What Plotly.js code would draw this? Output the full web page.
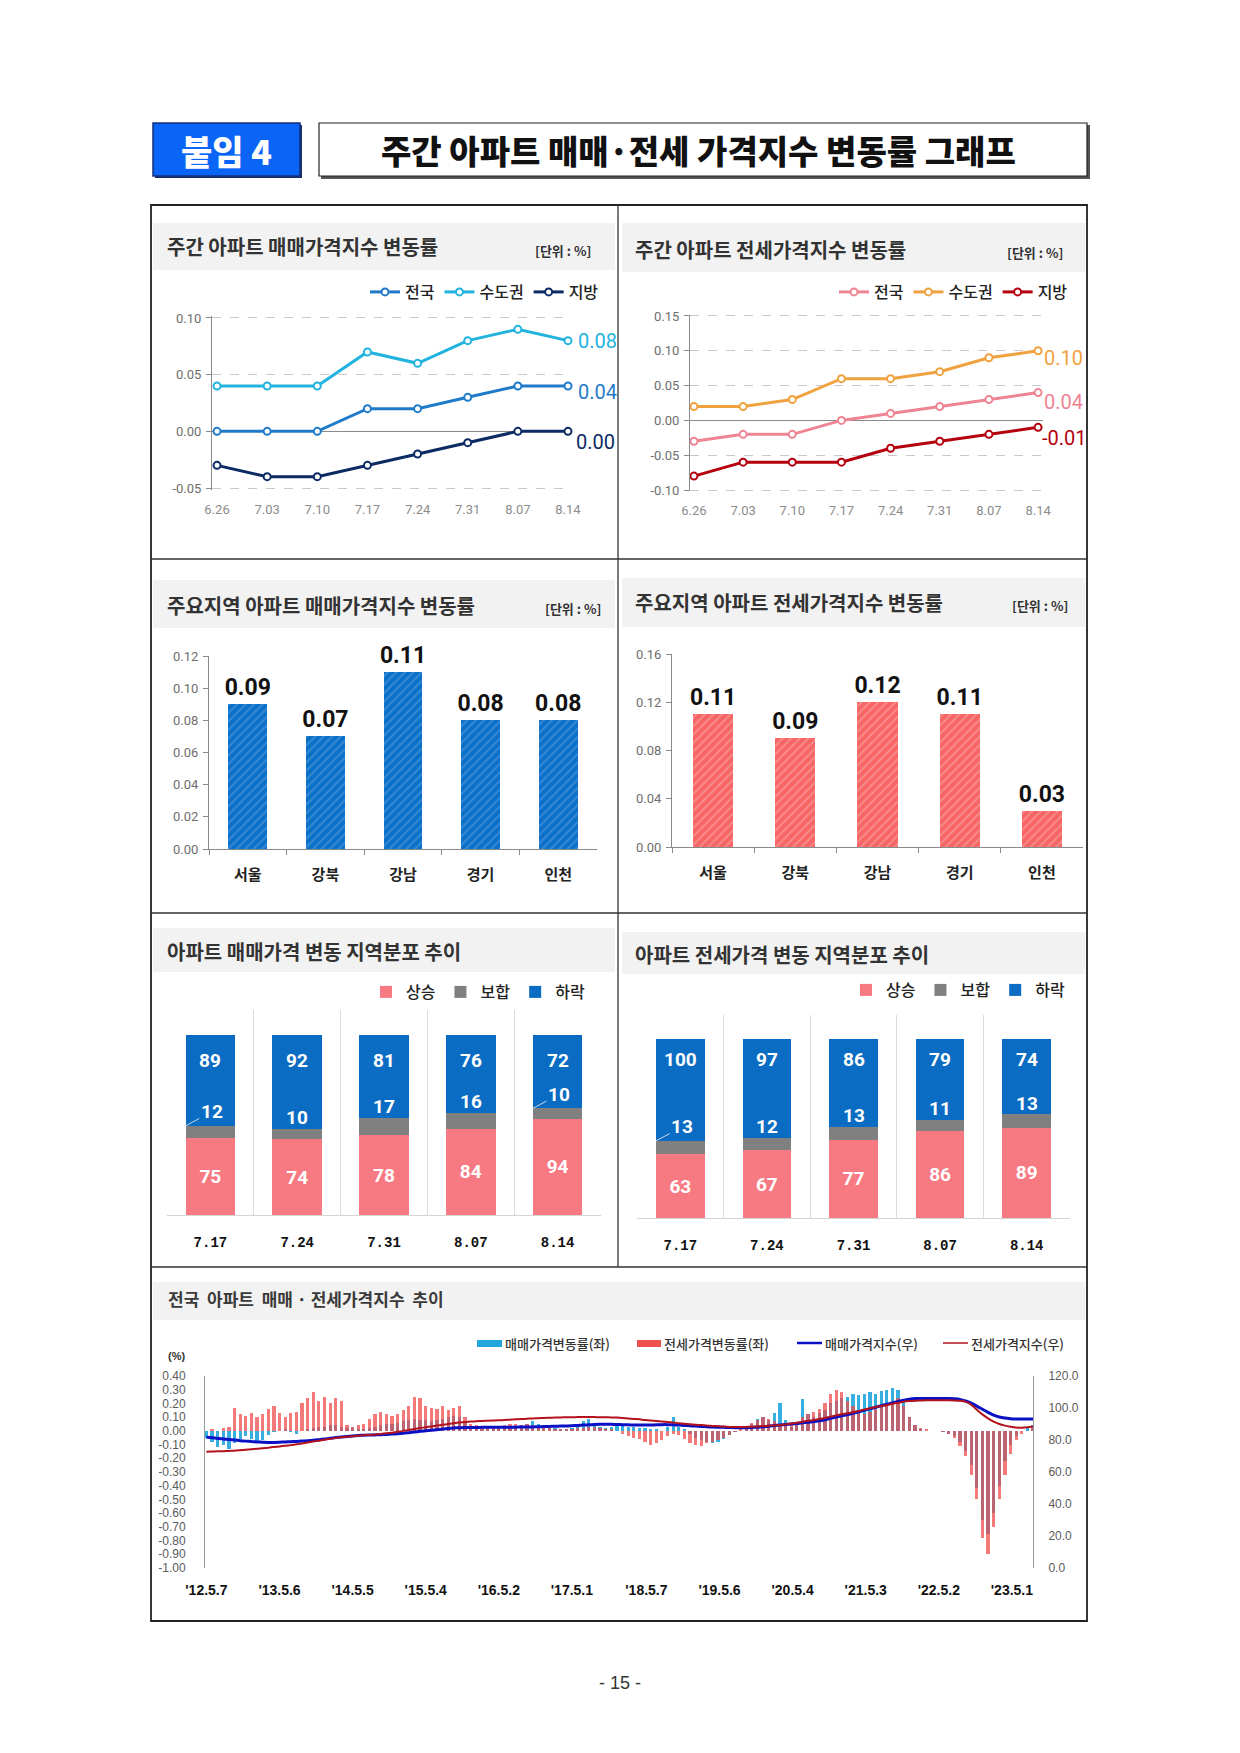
<!DOCTYPE html>
<html><head><meta charset="utf-8">
<script src="https://cdn.plot.ly/plotly-3.0.1.min.js"></script>
<style>html,body{margin:0;padding:0;background:#fff}#c{width:1240px;height:1753px}</style>
</head><body><div id="c"></div>
<script>
// ---------------- DATA ----------------
const weekLabels = ['6.26','7.03','7.10','7.17','7.24','7.31','8.07','8.14'];
const saleNation  = [0.00,0.00,0.00,0.02,0.02,0.03,0.04,0.04];
const saleCapital = [0.04,0.04,0.04,0.07,0.06,0.08,0.09,0.08];
const saleLocal   = [-0.03,-0.04,-0.04,-0.03,-0.02,-0.01,0.00,0.00];
const jeonseNation  = [-0.03,-0.02,-0.02,0.00,0.01,0.02,0.03,0.04];
const jeonseCapital = [0.02,0.02,0.03,0.06,0.06,0.07,0.09,0.10];
const jeonseLocal   = [-0.08,-0.06,-0.06,-0.06,-0.04,-0.03,-0.02,-0.01];

const regions = ['서울','강북','강남','경기','인천'];
const saleRegion   = [0.09,0.07,0.11,0.08,0.08];
const jeonseRegion = [0.11,0.09,0.12,0.11,0.03];

const distWeeks = ['7.17','7.24','7.31','8.07','8.14'];
const saleUp   = [75,74,78,84,94];
const saleFlat = [12,10,17,16,10];
const saleDown = [89,92,81,76,72];
const jeonseUp   = [63,67,77,86,89];
const jeonseFlat = [13,12,13,11,13];
const jeonseDown = [100,97,86,79,74];

// long series, sampled every 4 weeks from '12.5.7 (one row per year)
const sampleStepWeeks = 4;
const saleRate = [
 -0.05,-0.08,-0.12,-0.10,-0.13,-0.09,-0.06,-0.04,-0.06,-0.09,-0.07,-0.03,-0.01,
 0.00,0.01,-0.01,-0.02,0.00,0.01,0.02,0.03,0.03,0.04,0.04,0.03,0.02,
 0.02,0.01,0.01,0.02,0.03,0.04,0.05,0.05,0.06,0.07,0.08,0.09,0.08,
 0.08,0.07,0.08,0.09,0.10,0.11,0.10,0.06,0.03,0.02,0.01,0.01,0.01,
 0.02,0.02,0.03,0.03,0.04,0.05,0.07,0.05,0.03,0.02,0.02,0.01,0.01,
 0.02,0.05,0.07,0.09,0.04,0.03,0.02,0.03,0.04,0.04,0.03,0.03,0.02,
 0.02,0.01,0.01,0.00,0.03,0.10,0.03,0.01,-0.02,-0.05,-0.07,-0.08,-0.09,
 -0.08,-0.06,-0.03,-0.01,0.00,0.02,0.05,0.09,0.10,0.08,0.13,0.20,0.08,
 0.03,0.05,0.23,0.12,0.10,0.13,0.15,0.20,0.22,0.24,0.25,0.27,0.26,
 0.27,0.28,0.27,0.29,0.30,0.31,0.30,0.22,0.10,0.04,0.01,0.00,0.00,
 0.00,-0.01,-0.02,-0.04,-0.08,-0.15,-0.25,-0.42,-0.65,-0.75,-0.60,-0.40,-0.22,
 -0.10,-0.04,0.00,0.02,0.04
];
const jeonseRate = [
 0.00,0.01,0.00,0.02,0.03,0.17,0.12,0.11,0.13,0.10,0.12,0.16,0.18,
 0.13,0.10,0.13,0.14,0.20,0.24,0.28,0.22,0.25,0.20,0.24,0.22,0.04,
 0.03,0.04,0.05,0.09,0.12,0.14,0.12,0.11,0.12,0.15,0.18,0.25,0.24,
 0.18,0.17,0.16,0.18,0.15,0.17,0.18,0.10,0.05,0.04,0.03,0.03,0.02,
 0.03,0.04,0.05,0.05,0.04,0.05,0.04,0.02,0.02,0.02,0.01,0.01,0.01,
 0.01,0.02,0.02,0.03,0.03,0.02,0.01,0.01,0.00,-0.02,-0.04,-0.05,-0.06,
 -0.08,-0.10,-0.09,-0.07,-0.04,-0.02,-0.03,-0.06,-0.09,-0.10,-0.11,-0.09,-0.08,
 -0.07,-0.05,-0.03,-0.01,0.01,0.03,0.06,0.08,0.10,0.09,0.07,0.05,0.04,
 0.04,0.06,0.10,0.12,0.14,0.16,0.20,0.27,0.30,0.28,0.22,0.18,0.14,
 0.12,0.14,0.16,0.18,0.20,0.22,0.24,0.18,0.10,0.04,0.02,0.01,0.00,
 0.00,-0.01,-0.02,-0.05,-0.11,-0.18,-0.32,-0.50,-0.78,-0.90,-0.70,-0.50,-0.32,
 -0.17,-0.07,-0.02,0.00,0.02
];
const saleIndex = [
 81.7,81.4,81.0,80.6,80.3,80.0,79.6,79.3,79.0,78.8,78.6,78.5,78.5,
 78.6,78.8,78.9,79.1,79.3,79.5,79.8,80.2,80.6,81.1,81.5,81.9,82.2,
 82.5,82.8,83.0,83.1,83.2,83.3,83.5,83.7,83.9,84.2,84.6,85.0,85.4,
 85.8,86.1,86.4,86.8,87.2,87.5,87.7,87.8,87.8,87.8,87.9,87.9,87.9,
 87.9,88.0,88.0,88.0,88.1,88.1,88.2,88.3,88.4,88.5,88.6,88.7,88.8,
 88.9,89.1,89.3,89.5,89.7,89.8,89.8,89.8,89.7,89.6,89.5,89.4,89.4,
 89.4,89.4,89.5,89.6,89.6,89.5,89.3,89.1,88.9,88.7,88.5,88.3,88.1,
 88.0,87.9,87.8,87.7,87.7,87.7,87.8,88.0,88.3,88.6,89.0,89.4,89.7,
 90.0,90.3,90.7,91.1,91.5,92.0,92.7,93.5,94.3,95.1,95.9,96.7,97.6,
 98.5,99.5,100.5,101.4,102.3,103.2,104.1,104.9,105.5,105.9,106.0,106.0,106.0,
 106.0,106.0,106.0,105.8,105.4,104.4,103.0,101.2,99.2,97.3,95.6,94.4,93.7,
 93.3,93.1,93.1,93.1,93.2
];
const jeonseIndex = [
 72.7,72.8,72.9,73.0,73.2,73.3,73.6,73.9,74.2,74.5,74.9,75.2,75.6,
 76.0,76.4,76.8,77.3,77.8,78.4,79.0,79.6,80.2,80.8,81.3,81.7,82.0,
 82.3,82.6,82.9,83.2,83.5,83.8,84.2,84.6,85.1,85.7,86.3,86.9,87.5,
 88.0,88.5,89.0,89.5,90.0,90.5,90.9,91.2,91.5,91.7,91.9,92.1,92.2,
 92.3,92.5,92.7,92.9,93.1,93.3,93.5,93.6,93.8,93.9,94.0,94.1,94.2,
 94.2,94.3,94.3,94.3,94.3,94.2,94.2,94.1,94.0,93.8,93.5,93.2,92.9,
 92.5,92.2,91.9,91.5,91.2,90.9,90.5,90.2,89.9,89.6,89.3,89.0,88.8,
 88.6,88.4,88.2,88.1,88.1,88.2,88.3,88.5,88.7,88.9,89.1,89.4,89.8,
 90.3,90.8,91.4,92.0,92.5,93.1,93.8,94.6,95.4,96.1,96.7,97.4,98.2,
 99.0,99.8,100.6,101.3,101.9,102.6,103.3,103.9,104.3,104.6,104.7,104.8,104.8,
 104.8,104.8,104.8,104.7,104.5,104.0,102.0,99.0,96.0,93.5,91.5,90.0,89.0,
 88.3,87.8,87.7,87.9,88.4
];
const longTickWeeks  = [0,52,104,156,208,260,313,365,417,469,521,573];
const longTickLabels = ["'12.5.7","'13.5.6","'14.5.5","'15.5.4","'16.5.2","'17.5.1","'18.5.7","'19.5.6","'20.5.4","'21.5.3","'22.5.2","'23.5.1"];

// ---------------- HELPERS ----------------
const W = 1240, H = 1753;
const px = x => x / W;
const py = y => 1 - y / H;
const KR = "Noto Sans CJK KR";
const NUM = "Liberation Sans Narrow, Roboto, sans-serif";
const SANS = "Liberation Sans, Arial, sans-serif";
const fmt2 = v => v.toFixed(2);

const traces = [];
const annotations = [];
const shapes = [];

function addText(text, x, y, opts) {
  opts = opts || {};
  annotations.push({
    text: text, xref: 'paper', yref: 'paper', x: px(x), y: py(y),
    xanchor: opts.xanchor || 'left', yanchor: 'middle', showarrow: false,
    font: Object.assign({family: KR, size: 20, color: '#333', weight: 700}, opts.font || {})
  });
}
function rect(x0, y0, x1, y1, fill, line, lw) {
  shapes.push({type: 'rect', xref: 'paper', yref: 'paper', x0: px(x0), x1: px(x1), y0: py(y0), y1: py(y1),
    fillcolor: fill || 'rgba(0,0,0,0)', line: {color: line || 'rgba(0,0,0,0)', width: lw || 0}, layer: 'below'});
}
function seg(x0, y0, x1, y1, color, w) {
  shapes.push({type: 'line', xref: 'paper', yref: 'paper', x0: px(x0), x1: px(x1), y0: py(y0), y1: py(y1),
    line: {color: color, width: w}, layer: 'above'});
}

// ---------------- HEADER & FRAME ----------------
rect(155, 125, 302, 178, '#1b2f6e', null, 0);
rect(153, 123, 300, 176, '#0a64f5', '#14307a', 1.5);
addText('붙임 4', 226, 150, {xanchor: 'center', font: {size: 34, color: '#fff', weight: 900}});
rect(321, 125, 1090, 179, '#555', null, 0);
rect(319, 123, 1087, 176, '#fff', '#222', 1.2);
addText('주간 아파트 매매·전세 가격지수 변동률 그래프', 698, 150, {xanchor: 'center', font: {size: 33, color: '#111', weight: 900}});
addText('- 15 -', 620, 1683, {xanchor: 'center', font: {family: SANS, size: 18, color: '#333', weight: 400}});

shapes.push({type: 'rect', xref: 'paper', yref: 'paper', x0: px(151), x1: px(1087), y0: py(205), y1: py(1621),
  line: {color: '#222', width: 1.8}, fillcolor: 'rgba(0,0,0,0)', layer: 'above'});
seg(618, 205, 618, 1267, '#333', 1.3);
seg(151, 559, 1087, 559, '#333', 1.3);
seg(151, 913, 1087, 913, '#333', 1.3);
seg(151, 1267, 1087, 1267, '#333', 1.3);

// title bands
const BAND = '#f2f2f2';
rect(153, 223, 615, 270, BAND); rect(622, 223, 1085, 272, BAND);
rect(153, 580, 615, 628, BAND); rect(622, 578, 1085, 627, BAND);
rect(153, 928, 615, 972, BAND); rect(622, 932, 1085, 974, BAND);
rect(153, 1282, 1085, 1320, BAND);

addText('주간 아파트 매매가격지수 변동률', 165, 247);
addText('[단위 : %]', 593, 250, {xanchor: 'right', font: {size: 13}});
addText('주간 아파트 전세가격지수 변동률', 633, 249);
addText('[단위 : %]', 1065, 252, {xanchor: 'right', font: {size: 13}});
addText('주요지역 아파트 매매가격지수 변동률', 165, 605);
addText('[단위 : %]', 603, 608, {xanchor: 'right', font: {size: 13}});
addText('주요지역 아파트 전세가격지수 변동률', 633, 602);
addText('[단위 : %]', 1070, 605, {xanchor: 'right', font: {size: 13}});
addText('아파트 매매가격 변동 지역분포 추이', 165, 951);
addText('아파트 전세가격 변동 지역분포 추이', 633, 955);
addText('전국  아파트  매매 · 전세가격지수  추이', 166, 1298, {font: {size: 17, color: '#3a3a3a'}});

// ---------------- PANEL 1 & 2: weekly lines ----------------
function lineTrace(name, y, color, xa, ya, legend) {
  return {type: 'scatter', mode: 'lines+markers', name: name, x: weekLabels, y: y, xaxis: xa, yaxis: ya,
    legend: legend, line: {color: color, width: 3},
    marker: {symbol: 'circle', size: 7, color: '#fff', line: {color: color, width: 2}}, cliponaxis: false};
}
const C1 = ['#1f7bc9', '#22b3df', '#0c2a63'];
const C2 = ['#ef8492', '#f0a23f', '#b5000e'];
traces.push(lineTrace('전국', saleNation, C1[0], 'x', 'y', 'legend'));
traces.push(lineTrace('수도권', saleCapital, C1[1], 'x', 'y', 'legend'));
traces.push(lineTrace('지방', saleLocal, C1[2], 'x', 'y', 'legend'));
traces.push(lineTrace('전국', jeonseNation, C2[0], 'x2', 'y2', 'legend2'));
traces.push(lineTrace('수도권', jeonseCapital, C2[1], 'x2', 'y2', 'legend2'));
traces.push(lineTrace('지방', jeonseLocal, C2[2], 'x2', 'y2', 'legend2'));

function endLabel(xa, ya, yv, color, yshift, xshift) {
  annotations.push({xref: xa, yref: ya, x: weekLabels.length - 1, y: yv, text: fmt2(yv), showarrow: false,
    xanchor: 'left', yanchor: 'middle', xshift: xshift, yshift: yshift,
    font: {family: NUM, size: 20, color: color}});
}
const last = a => a[a.length - 1];
endLabel('x', 'y', last(saleCapital), C1[1], 0, 8);
endLabel('x', 'y', last(saleNation), C1[0], -6, 8);
endLabel('x', 'y', last(saleLocal), C1[2], -11, 6);
endLabel('x2', 'y2', last(jeonseCapital), C2[1], -7, 4);
endLabel('x2', 'y2', last(jeonseNation), C2[0], -9, 4);
endLabel('x2', 'y2', last(jeonseLocal), C2[2], -11, 2);

function lineX(domain, range) {
  return {domain: domain, type: 'category', range: range, showgrid: false, showline: false, zeroline: false,
    ticks: '', ticklabelstandoff: 10, tickfont: {family: NUM, size: 13, color: '#8c8c8c'}, fixedrange: true};
}
function lineY(domain, range, vals, anchor) {
  return {domain: domain, range: range, tickvals: vals, ticktext: vals.map(fmt2), anchor: anchor,
    showgrid: true, gridcolor: '#c8c8c8', griddash: 'dash', gridwidth: 1,
    zeroline: true, zerolinecolor: '#8a8a8a', zerolinewidth: 1,
    showline: true, linecolor: '#8a8a8a', linewidth: 1, ticks: 'outside', ticklen: 5, tickcolor: '#8a8a8a',
    ticklabelstandoff: 2, tickfont: {family: NUM, size: 13, color: '#6e6e6e'}, fixedrange: true};
}

// ---------------- PANEL 3 & 4: region bars ----------------
traces.push({type: 'bar', x: regions, y: saleRegion, xaxis: 'x3', yaxis: 'y3', width: 0.5, showlegend: false,
  marker: {color: '#0b70c9', line: {width: 0},
    pattern: {shape: '/', fillmode: 'overlay', fgcolor: '#3b8bd6', fgopacity: 1, size: 6, solidity: 0.3}},
  text: saleRegion.map(fmt2), textposition: 'outside', cliponaxis: false, constraintext: 'none',
  textfont: {family: NUM, size: 23, color: '#111', weight: 700}});
traces.push({type: 'bar', x: regions, y: jeonseRegion, xaxis: 'x4', yaxis: 'y4', width: 0.49, showlegend: false,
  marker: {color: '#f76565', line: {width: 0},
    pattern: {shape: '/', fillmode: 'overlay', fgcolor: '#fb8f8f', fgopacity: 1, size: 6, solidity: 0.3}},
  text: jeonseRegion.map(fmt2), textposition: 'outside', cliponaxis: false, constraintext: 'none',
  textfont: {family: NUM, size: 23, color: '#111', weight: 700}});

function barX(domain) {
  return {domain: domain, type: 'category', range: [-0.5, 4.5], showgrid: false, showline: true, linecolor: '#8a8a8a',
    ticks: 'outside', tickson: 'boundaries', ticklen: 5, tickcolor: '#8a8a8a', ticklabelstandoff: 12,
    tickfont: {family: KR, size: 15, color: '#222', weight: 700}, fixedrange: true};
}
function barY(domain, range, dtick, anchor) {
  return {domain: domain, range: range, dtick: dtick, tickformat: '.2f', anchor: anchor, showgrid: false, zeroline: false,
    showline: true, linecolor: '#8a8a8a', ticks: 'outside', ticklen: 5, tickcolor: '#8a8a8a', ticklabelstandoff: 2,
    tickfont: {family: NUM, size: 13, color: '#6e6e6e'}, fixedrange: true};
}

// ---------------- PANEL 5 & 6: stacked distribution ----------------
const CU = '#f77a82', CF = '#808080', CD = '#0a6cc2';
function stacked(up, flat, down, xa, ya, legend, width, topShift, leaders) {
  const baseFlat = up.slice();
  const baseDown = up.map((u, i) => u + flat[i]);
  traces.push({type: 'bar', name: '상승', x: distWeeks, y: up, base: 0, xaxis: xa, yaxis: ya, width: width, legend: legend,
    marker: {color: CU, line: {width: 0}}, text: up.map(String), textposition: 'inside', insidetextanchor: 'middle',
    textfont: {family: NUM, size: 19, color: '#fff', weight: 700}, constraintext: 'none'});
  traces.push({type: 'bar', name: '보합', x: distWeeks, y: flat, base: baseFlat, xaxis: xa, yaxis: ya, width: width, legend: legend,
    marker: {color: CF, line: {width: 0}}, textposition: 'none'});
  traces.push({type: 'bar', name: '하락', x: distWeeks, y: down, base: baseDown, xaxis: xa, yaxis: ya, width: width, legend: legend,
    marker: {color: CD, line: {width: 0}}, textposition: 'none'});
  distWeeks.forEach((w, i) => {
    annotations.push({xref: xa, yref: ya, x: i, y: baseDown[i] + down[i], yshift: topShift, text: String(down[i]),
      showarrow: false, yanchor: 'middle', font: {family: NUM, size: 19, color: '#fff', weight: 700}});
    if (leaders.indexOf(i) >= 0) {
      annotations.push({xref: xa, yref: ya, x: i - width / 2, y: baseDown[i], text: String(flat[i]),
        showarrow: true, arrowhead: 0, arrowwidth: 1, arrowcolor: '#d0d8e8', ax: 26, ay: -14, standoff: 0,
        font: {family: NUM, size: 19, color: '#fff', weight: 700}});
    } else {
      annotations.push({xref: xa, yref: ya, x: i, y: baseDown[i], yshift: 11, text: String(flat[i]),
        showarrow: false, yanchor: 'middle', font: {family: NUM, size: 19, color: '#fff', weight: 700}});
    }
  });
}
stacked(saleUp, saleFlat, saleDown, 'x5', 'y5', 'legend3', 0.57, -26, [0, 4]);
stacked(jeonseUp, jeonseFlat, jeonseDown, 'x6', 'y6', 'legend4', 0.56, -20, [0]);

function distX(domain) {
  return {domain: domain, type: 'category', range: [-0.5, 4.5], showgrid: true, gridcolor: '#dcdcdc', gridwidth: 1,
    tickson: 'boundaries', showline: true, linecolor: '#d4d4d4', ticks: '', ticklabelstandoff: 14,
    tickfont: {family: 'Liberation Mono, DejaVu Sans Mono, monospace', size: 14, color: '#111', weight: 700}, fixedrange: true};
}
function distY(domain, anchor) {
  return {domain: domain, range: [0, 200], visible: false, anchor: anchor, fixedrange: true};
}

// ---------------- PANEL 7: long-run ----------------
const sampleWeeks = saleRate.map((v, i) => i * sampleStepWeeks);
traces.push({type: 'bar', name: '매매가격변동률(좌)', x: sampleWeeks, y: saleRate, xaxis: 'x7', yaxis: 'y7', width: 2.3,
  showlegend: false, marker: {color: '#21a7dd', line: {width: 0}}, opacity: 0.9});
traces.push({type: 'bar', name: '전세가격변동률(좌)', x: sampleWeeks, y: jeonseRate, xaxis: 'x7', yaxis: 'y7', width: 2.3,
  showlegend: false, marker: {color: '#f04848', line: {width: 0}}, opacity: 0.72});
traces.push({type: 'scatter', mode: 'lines', name: '매매가격지수(우)', x: sampleWeeks, y: saleIndex, xaxis: 'x7', yaxis: 'y8',
  showlegend: false, line: {color: '#0a10c4', width: 3, shape: 'spline', smoothing: 0.6}});
traces.push({type: 'scatter', mode: 'lines', name: '전세가격지수(우)', x: sampleWeeks, y: jeonseIndex, xaxis: 'x7', yaxis: 'y8',
  showlegend: false, line: {color: '#b2121c', width: 2, shape: 'spline', smoothing: 0.6}});

const leftVals = [0.4,0.3,0.2,0.1,0,-0.1,-0.2,-0.3,-0.4,-0.5,-0.6,-0.7,-0.8,-0.9,-1.0];

// manual legend for the long chart
rect(477, 1340, 502, 1347, '#21a7dd');
rect(637, 1340, 661, 1347, '#f05050');
seg(797, 1343, 822, 1343, '#0a10c4', 2.5);
seg(943, 1343, 968, 1343, '#b2121c', 1.5);
const lf = {size: 13, color: '#333', weight: 500};
addText('매매가격변동률(좌)', 503, 1343, {font: lf});
addText('전세가격변동률(좌)', 662, 1343, {font: lf});
addText('매매가격지수(우)', 823, 1343, {font: lf});
addText('전세가격지수(우)', 969, 1343, {font: lf});
addText('(%)', 166, 1356, {font: {family: SANS, size: 11, color: '#333', weight: 700}});

// ---------------- LAYOUT ----------------
function legendAt(xRight, y, extra) {
  return Object.assign({x: px(xRight), xanchor: 'right', y: py(y), yanchor: 'middle', orientation: 'h',
    bgcolor: 'rgba(0,0,0,0)', borderwidth: 0, font: {family: KR, size: 16, color: '#222', weight: 500},
    itemwidth: 30, traceorder: 'normal', itemclick: false, itemdoubleclick: false, tracegroupgap: 0}, extra || {});
}

const layout = {
  width: W, height: H, margin: {l: 0, r: 0, t: 0, b: 0}, paper_bgcolor: '#fff', plot_bgcolor: 'rgba(0,0,0,0)',
  barmode: 'overlay', bargap: 0, showlegend: true, hovermode: false,
  font: {family: KR},
  xaxis: lineX([px(212), px(572)], [-0.1, 7.08]),
  yaxis: lineY([py(490.3), py(315.7)], [-0.052, 0.102], [-0.05, 0, 0.05, 0.10], 'x'),
  xaxis2: Object.assign(lineX([px(690), px(1043)], [-0.08, 7.1]), {anchor: 'y2'}),
  yaxis2: lineY([py(491.4), py(314.6)], [-0.102, 0.152], [-0.10, -0.05, 0, 0.05, 0.10, 0.15], 'x2'),
  xaxis3: Object.assign(barX([px(209), px(597)]), {anchor: 'y3'}),
  yaxis3: barY([py(849), py(656)], [0, 0.12], 0.02, 'x3'),
  xaxis4: Object.assign(barX([px(672), px(1083)]), {anchor: 'y4'}),
  yaxis4: barY([py(847), py(654)], [0, 0.16], 0.04, 'x4'),
  xaxis5: Object.assign(distX([px(167), px(601)]), {anchor: 'y5'}),
  yaxis5: distY([py(1215), py(1010)], 'x5'),
  xaxis6: Object.assign(distX([px(637), px(1070)]), {anchor: 'y6'}),
  yaxis6: distY([py(1218), py(1015)], 'x6'),
  xaxis7: {domain: [px(205), px(1033)], range: [-1, 588], anchor: 'y7', tickvals: longTickWeeks, ticktext: longTickLabels,
    showgrid: false, zeroline: false, showline: false, ticks: '', ticklabelstandoff: 12,
    tickfont: {family: SANS, size: 14, color: '#111', weight: 700}, fixedrange: true},
  yaxis7: {domain: [py(1568), py(1376)], range: [-1.0, 0.4], anchor: 'x7', tickvals: leftVals, ticktext: leftVals.map(fmt2),
    showgrid: false, zeroline: false, showline: true, linecolor: '#9a9a9a', linewidth: 1, ticks: '', ticklabelstandoff: 16,
    tickfont: {family: SANS, size: 12, color: '#5a5a5a'}, fixedrange: true},
  yaxis8: {domain: [py(1568), py(1376)], range: [0, 120], dtick: 20, tickformat: '.1f', overlaying: 'y7', side: 'right', anchor: 'x7',
    showgrid: false, zeroline: false, showline: true, linecolor: '#9a9a9a', linewidth: 1, ticks: '', ticklabelstandoff: 12,
    tickfont: {family: SANS, size: 12, color: '#5a5a5a'}, fixedrange: true},
  legend: legendAt(604, 292),
  legend2: legendAt(1073, 292),
  legend3: legendAt(590, 992),
  legend4: legendAt(1070, 990),
  annotations: annotations,
  shapes: shapes
};

Plotly.newPlot('c', traces, layout, {staticPlot: true, displayModeBar: false});
</script></body></html>
